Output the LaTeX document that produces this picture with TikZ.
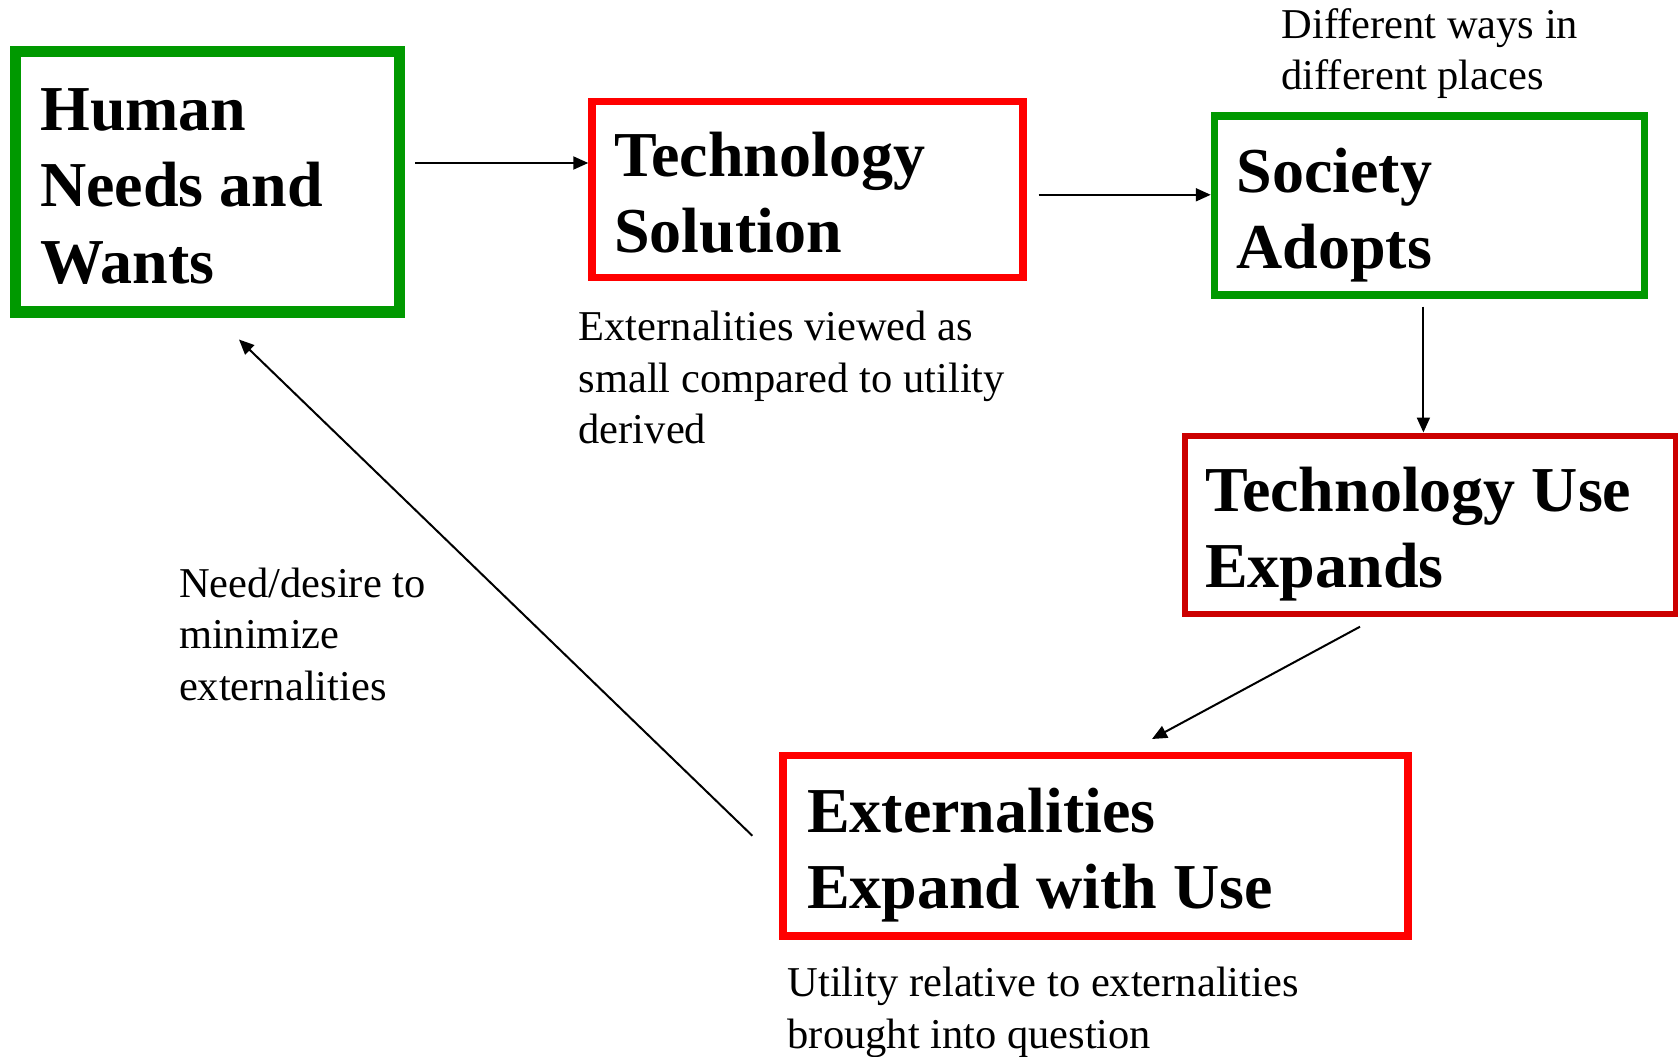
\documentclass[tikz,border=0pt]{standalone}
\usepackage{fontspec}
\setmainfont{Liberation Serif}
\usetikzlibrary{arrows.meta}
\definecolor{box_green}{RGB}{0, 153, 0}
\definecolor{box_red}{RGB}{255, 0, 0}
\definecolor{dark_red}{RGB}{204, 0, 0}
\newcommand{\boxfont}{\bfseries\fontsize{64}{76.5}\selectfont}
\tikzstyle{gbox}=[rectangle,draw=box_green,line width=7.5pt,align=flush left,
  font=\boxfont,inner ysep=0pt,text height=49.5pt,text depth=76.5pt]
\tikzstyle{rbox}=[rectangle,draw=box_red,line width=7.5pt,align=flush left,
  font=\boxfont,inner ysep=0pt,text height=49.5pt,text depth=76.5pt]
\tikzstyle{note}=[anchor=base west,align=left,inner sep=0pt,
  font=\fontsize{42.5}{51.2}\selectfont]
\tikzstyle{flow}=[line width=2pt,-{Triangle[length=15pt,width=13pt]}]
\tikzstyle{none}=[]

\begin{document}
\begin{tikzpicture}[x=10pt, y=10pt]
    \useasboundingbox (0, 0) rectangle (167.8, -105.7);
    \node [style=gbox, line width=11.5pt, minimum width=384pt, minimum height=260pt,
      inner xsep=25pt, text width=334pt, text depth=153pt] (0) at (20.725, -18.175) {Human\\Needs and\\Wants};
    \node [style=rbox, minimum width=431pt, minimum height=176pt,
      inner xsep=22.4pt, text width=386.2pt] (1) at (80.75, -18.95) {Technology\\Solution};
    \node [style=gbox, minimum width=430pt, minimum height=179.2pt,
      inner xsep=22pt, text width=386pt] (2) at (142.95, -20.56) {Society\\Adopts};
    \node [style=rbox, draw=dark_red, line width=6pt, minimum width=491pt, minimum height=178.2pt,
      inner xsep=20.7pt, text width=449.6pt] (3) at (143.0, -52.46) {Technology Use\\Expands};
    \node [style=rbox, minimum width=624.9pt, minimum height=180.7pt,
      inner xsep=24pt, text width=576.9pt] (4) at (109.545, -84.585) {Externalities\\Expand with Use};
    \node [style=note] (5) at (57.85, -44.33) {Externalities viewed as\\small compared to utility\\derived};
    \node [style=note] (6) at (128.13, -8.93) {Different ways in\\different places};
    \node [style=note] (7) at (17.88, -70.0) {Need/desire to\\minimize\\externalities};
    \node [style=note] (8) at (78.74, -104.8) {Utility relative to externalities\\brought into question};
    \node [style=none] (10) at (41.5, -16.3) {};
    \node [style=none] (11) at (103.85, -19.48) {};
    \node [style=none] (12) at (142.34, -30.67) {};
    \node [style=none] (13) at (136.0, -62.67) {};
    \node [style=none] (14) at (115.2, -73.9) {};
    \node [style=none] (15) at (75.23, -83.57) {};
    \node [style=none] (16) at (23.9, -33.95) {};
    \draw [style=flow] (10.center) to (10.center -| 1.west);
    \draw [style=flow] (11.center) to (11.center -| 2.west);
    \draw [style=flow] (12.center) to (12.center |- 3.north);
    \draw [style=flow] (13.center) to (14.center);
    \draw [style=flow] (15.center) to (16.center);
\end{tikzpicture}
\end{document}
